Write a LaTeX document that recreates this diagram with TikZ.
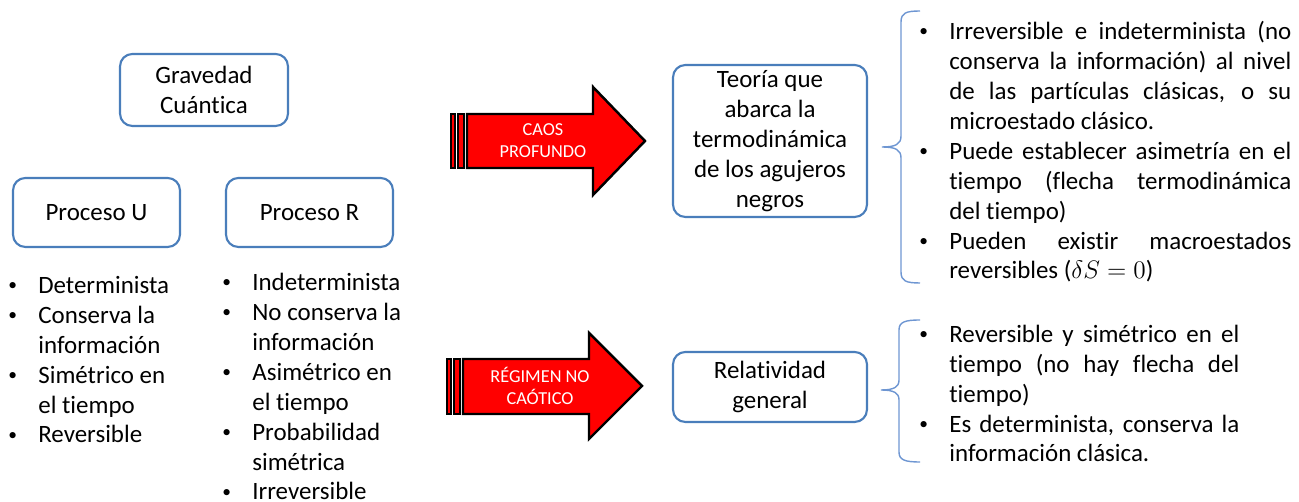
\documentclass[tikz,border=0pt]{standalone}
\usepackage{fontspec}
\setmainfont{Carlito}[Ligatures=NoCommon]
\definecolor{boxblue}{RGB}{74,126,187}
\definecolor{braceblue}{RGB}{110,150,210}
\newcommand{\txt}{\fontsize{14.2}{17.07}\selectfont}
\newcommand{\itm}{\makebox[0.6cm][l]{\raisebox{1.3pt}{\scalebox{0.7}{\textbullet}}}}
\newcommand{\cnt}{\hspace*{0.6cm}}
\newcommand{\jl}[2]{\makebox[#1][s]{#2}}
\begin{document}
\begin{tikzpicture}[
		x=0.02cm, y=-0.02cm,
		every node/.style={font=\txt, inner sep=0pt},
		caja/.style={draw=boxblue, line width=1.2pt, rounded corners=7pt, align=center},
		lista/.style={anchor=base west, align=left},
		flecha/.style={fill=red, draw=black, line width=1.4pt, line join=miter},
		rotulo/.style={text=white, font=\fontsize{10.4}{12.5}\selectfont, align=center},
		llave/.style={draw=braceblue, line width=0.8pt}
		]
		\useasboundingbox (0,0) rectangle (1299,502);
		
		\node[caja, minimum width=3.36cm, minimum height=1.44cm] (grav) at (204,90) {Gravedad\\Cuántica};
		\node[caja, minimum width=3.34cm, minimum height=1.38cm] (procU) at (96.5,212.5) {Proceso U};
		\node[caja, minimum width=3.34cm, minimum height=1.38cm] (procR) at (309.5,212.5) {Proceso R};
		
		\node[lista] (listaU) at (8,443) {\itm Determinista\\ \itm Conserva la\\ \cnt información\\ \itm Simétrico en\\ \cnt el tiempo\\ \itm Reversible};
		\node[lista] (listaR) at (222,500) {\itm Indeterminista\\ \itm No conserva la\\ \cnt información\\ \itm Asimétrico en\\ \cnt el tiempo\\ \itm Probabilidad\\ \cnt simétrica\\ \itm Irreversible};
		
		\filldraw[flecha] (451,114) rectangle (455,168);
		\filldraw[flecha] (458,114) rectangle (464,168);
		\filldraw[flecha] (467,114) -- (593,114) -- (593,87) -- (645,141) -- (593,195) -- (593,168) -- (467,168) -- cycle;
		\node[rotulo] (caos) at (543,141) {CAOS\\PROFUNDO};
		
		\filldraw[flecha] (447,359) rectangle (451,414);
		\filldraw[flecha] (454,359) rectangle (460,414);
		\filldraw[flecha] (463,359) -- (589,359) -- (589,333) -- (642,386) -- (589,439) -- (589,414) -- (463,414) -- cycle;
		\node[rotulo] (regimen) at (540,386) {RÉGIMEN NO\\CAÓTICO};
		
		\node[caja, minimum width=3.88cm, minimum height=3.04cm] (teoria) at (770,141) {Teoría que\\abarca la\\termodinámica\\de los agujeros\\negros};
		\node[caja, minimum width=3.88cm, minimum height=1.40cm] (relat) at (770,387) {Relatividad\\general};
		
		\draw[llave] (920,11) .. controls (906,11) and (901,13) .. (901,22) -- (901,136) .. controls (901,144) and (896,147) .. (882,147) .. controls (896,147) and (901,150) .. (901,158) -- (901,272) .. controls (901,281) and (906,283) .. (920,283);
		\draw[llave] (920,320) .. controls (905,320) and (899,322) .. (899,330) -- (899,380) .. controls (899,387) and (894,390) .. (881,390) .. controls (894,390) and (899,393) .. (899,400) -- (899,452) .. controls (899,460) and (905,462) .. (920,462);
		
		\node[lista] (teoriaProp) at (919,279) {\itm\jl{6.84cm}{Irreversible e indeterminista (no}\\ \cnt\jl{6.84cm}{conserva la información) al nivel}\\ \cnt\jl{6.84cm}{de las partículas clásicas, o su}\\ \cnt microestado clásico.\\ \itm\jl{6.84cm}{Puede establecer asimetría en el}\\ \cnt\jl{6.84cm}{tiempo (flecha termodinámica}\\ \cnt del tiempo)\\ \itm\jl{6.84cm}{Pueden existir macroestados}\\ \cnt reversibles ($\delta S=0$)};
		\node[lista] (relatProp) at (919,462) {\itm\jl{5.8cm}{Reversible y simétrico en el}\\ \cnt\jl{5.8cm}{tiempo (no hay flecha del}\\ \cnt tiempo)\\ \itm\jl{5.8cm}{Es determinista, conserva la}\\ \cnt información clásica.};
	\end{tikzpicture}
\end{document}
